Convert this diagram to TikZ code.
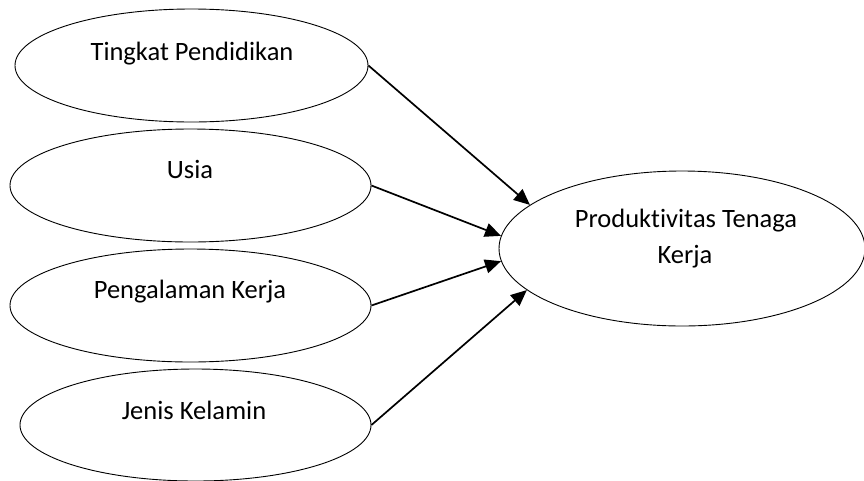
\documentclass[tikz,border=0pt]{standalone}
\usepackage{fontspec}
\setmainfont{Carlito}[Ligatures=NoCommon,RawFeature={-liga;-clig;-dlig}]
\usetikzlibrary{shapes.geometric,arrows.meta}
\begin{document}
\begin{tikzpicture}[x=1pt,y=-1pt,
  oval/.style={draw=black,line width=0.9pt,ellipse,inner sep=0pt},
  lbl/.style={anchor=base,inner sep=0pt,font=\fontsize{26.5}{39}\selectfont},
  link/.style={draw=black,line width=1.7pt,-{Triangle[length=16pt,width=14pt]}}]
\clip (0,0) rectangle (864,480);
\useasboundingbox (0,0) rectangle (864,480);
\node[oval,minimum width=353pt,minimum height=113pt] (tp) at (191.5,65.5) {};
\node[oval,minimum width=361pt,minimum height=113pt] (us) at (190.5,185.5) {};
\node[oval,minimum width=361pt,minimum height=113pt] (pk) at (190.5,305.5) {};
\node[oval,minimum width=351pt,minimum height=112pt] (jk) at (195.5,425) {};
\node[oval,minimum width=366pt,minimum height=155pt] (pr) at (682,248.5) {};
\node[lbl] (ttp) at (192,60) {Tingkat Pendidikan};
\node[lbl] (tus) at (190,178) {Usia};
\node[lbl] (tpk) at (190,298) {Pengalaman Kerja};
\node[lbl] (tjk) at (194,419) {Jenis Kelamin};
\node[lbl] (tpr1) at (686,227) {Produkt\kern0pt ivit\kern0pt as Tenaga};
\node[lbl] (tpr2) at (685,263) {Kerja};
\draw[link] (tp.east) -- (pr.164.6);
\draw[link] (us.east) -- (pr.176.7);
\draw[link] (pk.east) -- (pr.184.3);
\draw[link] (jk.east) -- (pr.195.4);
\end{tikzpicture}
\end{document}
